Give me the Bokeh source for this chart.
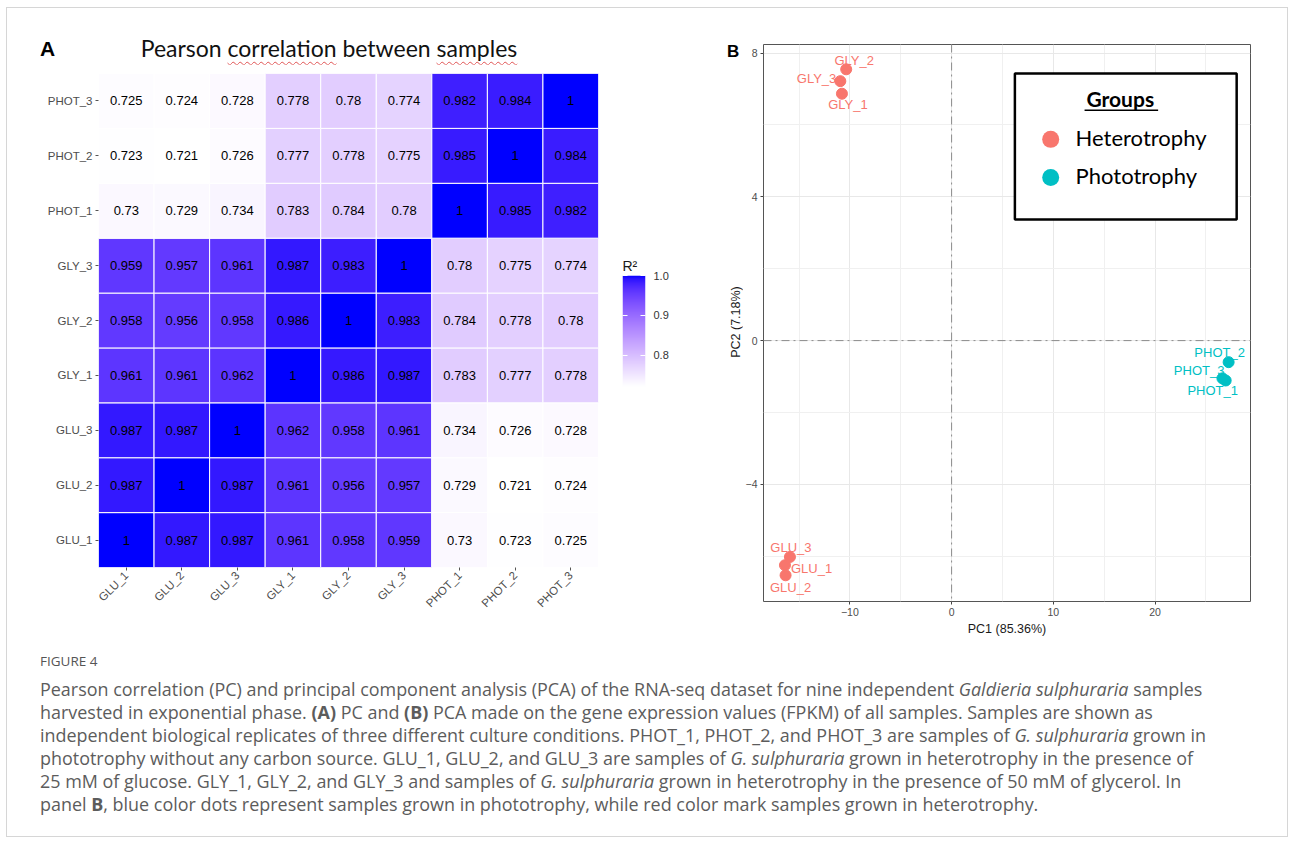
import math
import numpy as np
from bokeh.plotting import figure
from bokeh.models import (ColumnDataSource, LinearColorMapper, FixedTicker, LinearAxis,
                          Label, Span, Div, PrintfTickFormatter, Range1d)
from bokeh.layouts import row, column
from bokeh.embed import file_html
from bokeh.resources import INLINE
from bokeh.core.properties import value

# ---------------- data ----------------
samples = ["GLU_1", "GLU_2", "GLU_3", "GLY_1", "GLY_2", "GLY_3", "PHOT_1", "PHOT_2", "PHOT_3"]

# correlation rows (row sample -> values for columns in `samples` order)
r_glu_1 = [1, 0.987, 0.987, 0.961, 0.958, 0.959, 0.73, 0.723, 0.725]
r_glu_2 = [0.987, 1, 0.987, 0.961, 0.956, 0.957, 0.729, 0.721, 0.724]
r_glu_3 = [0.987, 0.987, 1, 0.962, 0.958, 0.961, 0.734, 0.726, 0.728]
r_gly_1 = [0.961, 0.961, 0.962, 1, 0.986, 0.987, 0.783, 0.777, 0.778]
r_gly_2 = [0.958, 0.956, 0.958, 0.986, 1, 0.983, 0.784, 0.778, 0.78]
r_gly_3 = [0.959, 0.957, 0.961, 0.987, 0.983, 1, 0.78, 0.775, 0.774]
r_phot_1 = [0.73, 0.729, 0.734, 0.783, 0.784, 0.78, 1, 0.985, 0.982]
r_phot_2 = [0.723, 0.721, 0.726, 0.777, 0.778, 0.775, 0.985, 1, 0.984]
r_phot_3 = [0.725, 0.724, 0.728, 0.778, 0.78, 0.774, 0.982, 0.984, 1]
corr_rows = [r_glu_1, r_glu_2, r_glu_3, r_gly_1, r_gly_2, r_gly_3, r_phot_1, r_phot_2, r_phot_3]
cbar_ticks = [0.8, 0.9, 1.0]

# PCA scores
pca_names = ["GLY_1", "GLY_2", "GLY_3", "GLU_1", "GLU_2", "GLU_3", "PHOT_1", "PHOT_2", "PHOT_3"]
pc1 = [-10.78, -10.36, -10.94, -16.38, -16.32, -15.89, 26.94, 27.23, 26.62]
pc2 = [6.87, 7.55, 7.22, -6.25, -6.53, -6.02, -1.11, -0.60, -1.05]
groups = ["Heterotrophy"] * 6 + ["Phototrophy"] * 3
group_names = ["Heterotrophy", "Phototrophy"]
x_ticks = [-10, 0, 10, 20]
y_ticks = [-4, 0, 4, 8]

# ---------------- styles ----------------
RED = "#F8766D"
TEAL = "#00BFC4"
FONT = "Liberation Sans"
group_color = {"Heterotrophy": RED, "Phototrophy": TEAL}
# label placement (pixel offsets, alignment) for each PCA point
lab_dx = [6, 8, -4, 6, 5, 1, -13, -9, 2]
lab_dy = [11, -9, -3, 3, 12, -9, 10, -10, -8]
lab_align = ["center", "center", "right", "left", "center", "center", "center", "center", "right"]

# ggplot-like Lab gradient white -> blue
M = np.array([[0.4124564, 0.3575761, 0.1804375],
              [0.2126729, 0.7151522, 0.0721750],
              [0.0193339, 0.1191920, 0.9503041]])
WHITE_REF = np.array([0.95047, 1.0, 1.08883])


def to_lab(hexc):
    c = np.array([int(hexc[i:i + 2], 16) for i in (1, 3, 5)]) / 255.0
    lin = np.where(c <= 0.04045, c / 12.92, ((c + 0.055) / 1.055) ** 2.4)
    xyz = (M @ lin) / WHITE_REF
    f = np.where(xyz > 0.008856, np.cbrt(xyz), 7.787 * xyz + 16 / 116)
    return np.array([116 * f[1] - 16, 500 * (f[0] - f[1]), 200 * (f[1] - f[2])])


def to_hex(lab):
    L, a, b = lab
    fy = (L + 16) / 116
    f = np.array([fy + a / 500, fy, fy - b / 200])
    xyz = np.where(f ** 3 > 0.008856, f ** 3, (f - 16 / 116) / 7.787) * WHITE_REF
    lin = np.clip(np.linalg.inv(M) @ xyz, 0, 1)
    c = np.where(lin <= 0.0031308, 12.92 * lin, 1.055 * lin ** (1 / 2.4) - 0.055)
    c = np.clip(c, 0, 1)
    return "#%02x%02x%02x" % tuple(int(round(v * 255)) for v in c)


lab_lo, lab_hi = to_lab("#FFFFFF"), to_lab("#0000FF")
palette = [to_hex(lab_lo + (lab_hi - lab_lo) * t) for t in np.linspace(0, 1, 256)]

all_vals = [v for r in corr_rows for v in r]
vmin, vmax = min(all_vals), max(all_vals)
mapper = LinearColorMapper(palette=palette, low=vmin, high=vmax)

# ---------------- heading A ----------------
WAVY = 'text-decoration:underline wavy #e05050;text-decoration-thickness:1px;text-underline-offset:4px;'
hdr = Div(width=603, height=56, margin=0, text=(
    '<div style="position:relative;width:603px;height:56px;">'
    '<div style="position:absolute;left:33px;top:30px;line-height:1;font-family:\'Liberation Sans\';'
    'font-weight:bold;font-size:21px;color:#000;">A</div>'
    '<div style="position:absolute;left:322px;top:29px;transform:translateX(-50%);white-space:nowrap;'
    'line-height:1;font-family:Lato;font-size:23px;color:#111;">Pearson '
    f'<span style="{WAVY}">correlation</span> between <span style="{WAVY}">samples</span></div>'
    '</div>'))

# ---------------- heatmap ----------------
hx, hy, hv, hl = [], [], [], []
for rname, rvals in zip(samples, corr_rows):
    for cname, v in zip(samples, rvals):
        hx.append(cname)
        hy.append(rname)
        hv.append(v)
        hl.append(f"{v:g}")
hsrc = ColumnDataSource(dict(x=hx, y=hy, v=hv, label=hl))

hm = figure(width=603, height=577, x_range=samples, y_range=samples, title=None,
            output_backend="svg", toolbar_location=None,
            min_border_left=91, min_border_right=12, min_border_top=9, min_border_bottom=74)
hm.rect(x="x", y="y", width=1, height=1, source=hsrc,
        fill_color={"field": "v", "transform": mapper}, line_color="white", line_width=1)
hm.text(x="x", y="y", text="label", source=hsrc, text_align="center", text_baseline="middle",
        text_font=value(FONT), text_font_size="13px", text_color="black")
hm.grid.visible = False
hm.outline_line_color = None
hm.axis.axis_line_color = None
hm.axis.major_tick_line_color = "#555555"
hm.axis.major_tick_out = 3
hm.axis.major_tick_in = 0
hm.axis.major_label_text_font = FONT
hm.axis.major_label_text_font_size = "11.5px"
hm.axis.major_label_text_color = "#4d4d4d"
hm.axis.major_label_standoff = 3
hm.xaxis.major_label_orientation = math.pi / 4

# ---------------- colour bar (own small figure) ----------------
cb = figure(width=111, height=633, x_range=Range1d(0, 1), y_range=Range1d(vmin, vmax),
            title="R²", output_backend="svg", toolbar_location=None,
            x_axis_location=None, y_axis_location="right",
            min_border_left=12, min_border_right=76, min_border_top=267, min_border_bottom=255)
cb.image(image=[np.linspace(vmin, vmax, 256).reshape(256, 1)], x=0, y=vmin, dw=1,
         dh=vmax - vmin, color_mapper=mapper)
cb.grid.visible = False
cb.outline_line_color = None
cb.title.text_font = FONT
cb.title.text_font_size = "14px"
cb.title.text_font_style = "normal"
cb.title.text_color = "#1a1a1a"
cb.title.align = "left"
cb.title.standoff = 3
cb.yaxis.ticker = FixedTicker(ticks=cbar_ticks)
cb.yaxis.formatter = PrintfTickFormatter(format="%.1f")
cb.yaxis.axis_line_color = None
cb.yaxis.minor_tick_line_color = None
cb.yaxis.major_tick_line_color = "white"
cb.yaxis.major_tick_in = 5
cb.yaxis.major_tick_out = 0
cb.yaxis.major_label_standoff = 8
cb.yaxis.major_label_text_font = FONT
cb.yaxis.major_label_text_font_size = "11px"
cb.yaxis.major_label_text_color = "#333333"
left_ax = LinearAxis(ticker=FixedTicker(ticks=cbar_ticks), axis_line_color=None,
                     major_tick_line_color="white", major_tick_in=5, major_tick_out=0,
                     minor_tick_line_color=None, major_label_text_color=None,
                     major_label_text_font_size="1px")
cb.add_layout(left_ax, "left")

# ---------------- panel B label strip (B + y-axis title) ----------------
strip = Div(width=21, height=633, margin=0, text=(
    '<div style="position:relative;width:21px;height:633px;">'
    '<div style="position:absolute;left:6px;top:35px;line-height:1;font-family:\'Liberation Sans\';'
    'font-weight:bold;font-size:17px;color:#000;">B</div>'
    '<div style="position:absolute;left:15px;top:314px;white-space:nowrap;line-height:1;'
    'font-family:\'Liberation Sans\';font-size:12.5px;color:#1a1a1a;'
    'transform:translate(-50%,-50%) rotate(-90deg);">PC2 (7.18%)</div>'
    '</div>'))

# ---------------- PCA ----------------
psrc = ColumnDataSource(dict(x=pc1, y=pc2, name=pca_names, group=groups,
                             color=[group_color[g] for g in groups],
                             dx=lab_dx, dy=lab_dy, align=lab_align))
pca = figure(width=545, height=633, x_range=Range1d(-18.49, 29.38), y_range=Range1d(-7.26, 8.24),
             title=None, output_backend="svg", toolbar_location=None,
             min_border_left=18, min_border_right=37, min_border_top=36, min_border_bottom=40)
pca.xaxis.ticker = FixedTicker(ticks=x_ticks, minor_ticks=[-15, -5, 5, 15, 25])
pca.yaxis.ticker = FixedTicker(ticks=y_ticks, minor_ticks=[-6, -2, 2, 6])
pca.grid.grid_line_color = "#e8e8e8"
pca.grid.minor_grid_line_color = "#f0f0f0"
pca.outline_line_color = "#555555"
pca.outline_line_width = 1
pca.axis.axis_line_color = None
pca.axis.minor_tick_line_color = None
pca.axis.major_tick_line_color = "#444444"
pca.axis.major_tick_out = 3
pca.axis.major_tick_in = 0
pca.axis.major_label_text_font = FONT
pca.axis.major_label_text_font_size = "10.5px"
pca.axis.major_label_text_color = "#4d4d4d"
pca.axis.major_label_standoff = 2
pca.xaxis.axis_label_text_font = FONT
pca.xaxis.axis_label_text_font_size = "12.5px"
pca.xaxis.axis_label_text_font_style = "normal"
pca.xaxis.axis_label_text_color = "#1a1a1a"
pca.xaxis.axis_label_standoff = 3
pca.xaxis.axis_label = "PC1 (85.36%)"

for dim in ("height", "width"):
    pca.add_layout(Span(location=0, dimension=dim, line_color="#8c8c8c",
                        line_dash="8 4 2 4", line_width=1))

pca.scatter(x="x", y="y", source=psrc, size=11, fill_color="color", line_color="color")
pca.text(x="x", y="y", text="name", source=psrc, x_offset="dx", y_offset="dy",
         text_align="align", text_baseline="middle", text_color="color",
         text_font=value(FONT), text_font_size="13px")

# custom legend box (as in the reference figure)
pca.quad(left=[6.22], right=[28.02], bottom=[3.37], top=[7.43],
         fill_color="white", line_color="black", line_width=2.5)
pca.add_layout(Label(x=16.58, y=6.74, text="Groups", text_align="center",
                     text_baseline="middle", text_font="Lato", text_font_size="21px",
                     text_font_style="bold", text_color="black"))
pca.segment(x0=[13.07], y0=[6.41], x1=[20.3], y1=[6.41], line_color="black", line_width=1.5)
pca.scatter(x=[9.74, 9.74], y=[5.60, 4.54], size=17,
            fill_color=[group_color[g] for g in group_names], line_color=None)
for gname, gy in zip(group_names, [5.65, 4.60]):
    pca.add_layout(Label(x=12.19, y=gy, text=gname, text_align="left",
                         text_baseline="middle", text_font="Lato", text_font_size="22px",
                         text_color="black"))

# ---------------- caption ----------------
cap_html = (
    '<div style="font-family:\'Open Sans\',sans-serif;color:#5c5c5c;margin-left:33px;padding-top:11px;">'
    '<div style="font-size:13.5px;line-height:18px;color:#555;">FIGURE 4</div>'
    '<div style="margin-top:8px;font-size:17.95px;line-height:23px;white-space:nowrap;">'
    'Pearson correlation (PC) and principal component analysis (PCA) of the RNA-seq dataset for nine independent <i>Galdieria sulphuraria</i> samples<br>'
    'harvested in exponential phase. <b>(A)</b> PC and <b>(B)</b> PCA made on the gene expression values (FPKM) of all samples. Samples are shown as<br>'
    'independent biological replicates of three different culture conditions. PHOT_1, PHOT_2, and PHOT_3 are samples of <i>G. sulphuraria</i> grown in<br>'
    'phototrophy without any carbon source. GLU_1, GLU_2, and GLU_3 are samples of <i>G. sulphuraria</i> grown in heterotrophy in the presence of<br>'
    '25 mM of glucose. GLY_1, GLY_2, and GLY_3 and samples of <i>G. sulphuraria</i> grown in heterotrophy in the presence of 50 mM of glycerol. In<br>'
    'panel <b>B</b>, blue color dots represent samples grown in phototrophy, while red color mark samples grown in heterotrophy.'
    '</div></div>'
)
cap = Div(text=cap_html, width=1280, height=195, margin=0)

top = row(column(hdr, hm), column(cb), column(strip), column(pca))
layout = column(top, cap, styles={"border": "1px solid #d6d6d6", "margin-left": "6px",
                                  "margin-top": "7px"})

open("out.html", "w").write(file_html(layout, INLINE))
